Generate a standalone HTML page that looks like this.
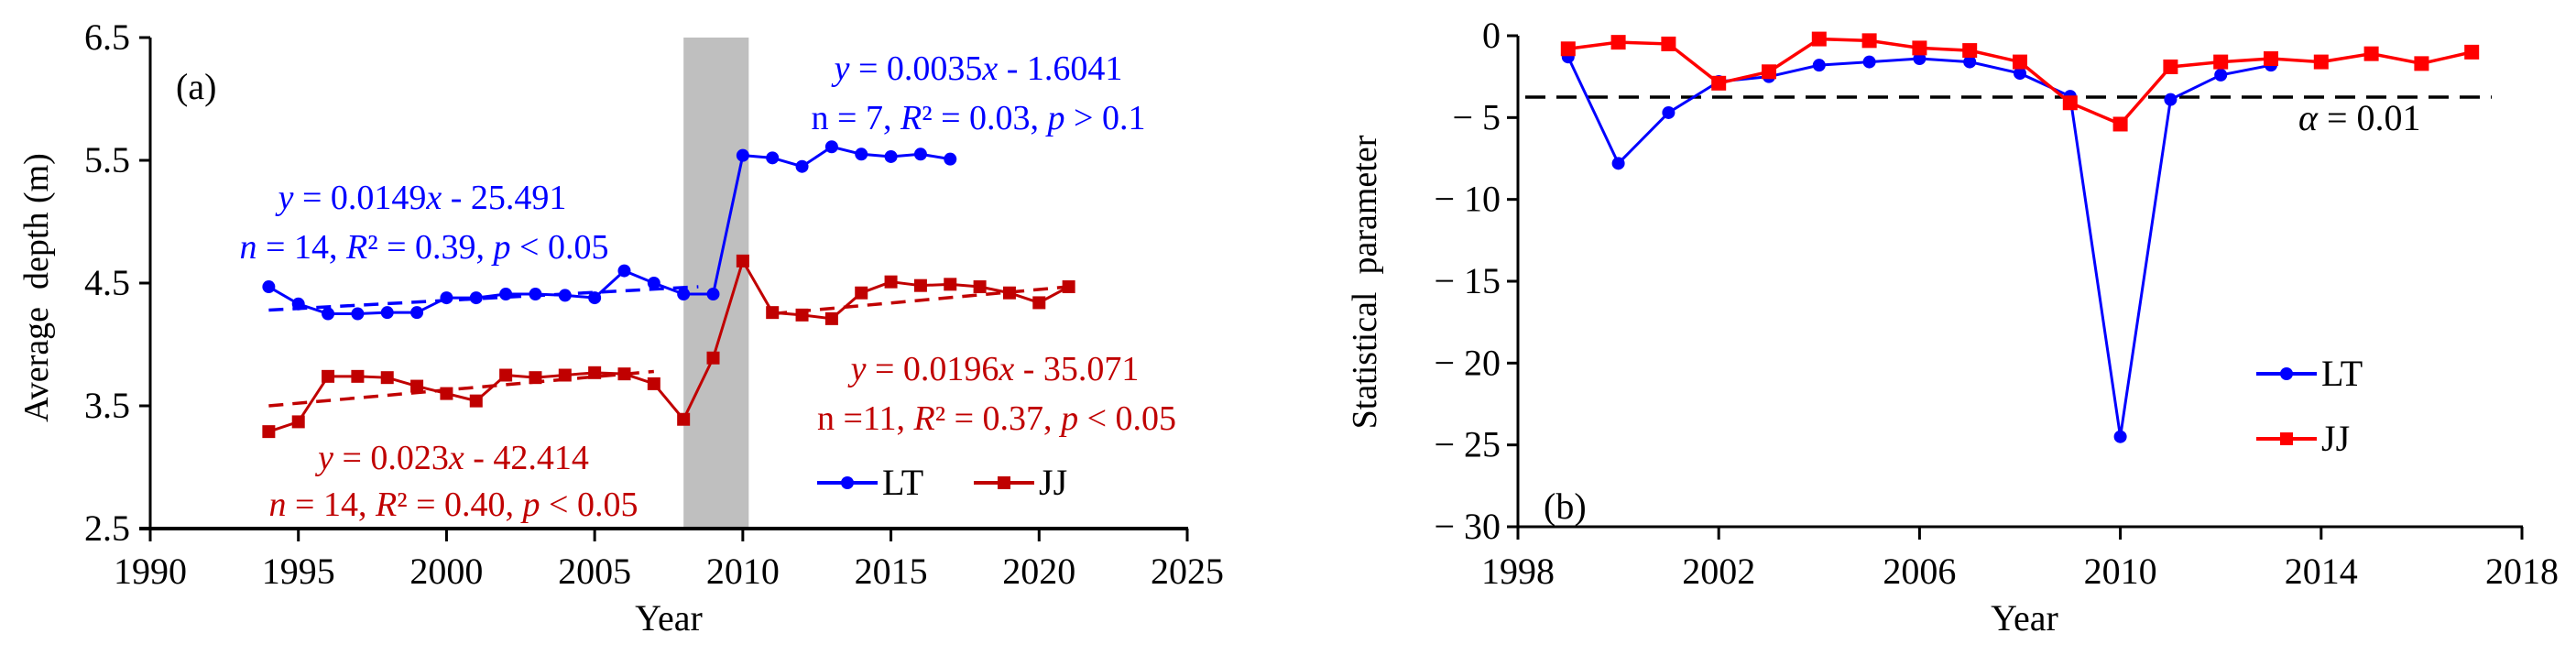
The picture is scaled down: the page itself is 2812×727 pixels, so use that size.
<!DOCTYPE html>
<html><head><meta charset="utf-8"><style>
html,body{margin:0;padding:0;background:#fff;}
svg{display:block;font-family:"Liberation Serif",serif;}
</style></head><body>
<svg id="c" width="2812" height="727" viewBox="0 0 2812 727" xmlns="http://www.w3.org/2000/svg"></svg>
<script>
// ---------- Panel (a) data ----------
const yearsA_LT = [1994,1995,1996,1997,1998,1999,2000,2001,2002,2003,2004,2005,2006,2007,2008,2009,2010,2011,2012,2013,2014,2015,2016,2017];
const valsA_LT = [4.47,4.33,4.25,4.25,4.26,4.26,4.38,4.38,4.41,4.41,4.40,4.38,4.60,4.50,4.41,4.41,5.54,5.52,5.45,5.61,5.55,5.53,5.55,5.51];
const yearsA_JJ = [1994,1995,1996,1997,1998,1999,2000,2001,2002,2003,2004,2005,2006,2007,2008,2009,2010,2011,2012,2013,2014,2015,2016,2017,2018,2019,2020,2021];
const valsA_JJ = [3.29,3.37,3.74,3.74,3.73,3.66,3.60,3.54,3.75,3.73,3.75,3.77,3.76,3.68,3.39,3.89,4.68,4.26,4.24,4.21,4.42,4.51,4.48,4.49,4.47,4.42,4.34,4.47];
const trendLT1Years = [1994,2008.5]; const trendLT1Vals = [4.28,4.47];
const trendJJ1Years = [1994,2007]; const trendJJ1Vals = [3.50,3.78];
const trendJJ2Years = [2011,2021]; const trendJJ2Vals = [4.25,4.47];
const ticksAX = [1990,1995,2000,2005,2010,2015,2020,2025];
const ticksAY = [2.5,3.5,4.5,5.5,6.5];
const bandA = [2008,2010.2];
// ---------- Panel (b) data ----------
const yearsB_LT = [1999,2000,2001,2002,2003,2004,2005,2006,2007,2008,2009,2010,2011,2012,2013];
const valsB_LT = [-1.3,-7.8,-4.7,-2.8,-2.5,-1.8,-1.6,-1.4,-1.6,-2.3,-3.7,-24.5,-3.9,-2.4,-1.8];
const yearsB_JJ = [1999,2000,2001,2002,2003,2004,2005,2006,2007,2008,2009,2010,2011,2012,2013,2014,2015,2016,2017];
const valsB_JJ = [-0.8,-0.4,-0.5,-2.9,-2.2,-0.2,-0.3,-0.75,-0.9,-1.6,-4.1,-5.4,-1.9,-1.6,-1.4,-1.6,-1.1,-1.7,-1.0];
const ticksBX = [1998,2002,2006,2010,2014,2018];
const ticksBY = [0,-5,-10,-15,-20,-25,-30];
const alphaLevel = [-3.75];

const svg = document.getElementById('c');
const NS = 'http://www.w3.org/2000/svg';
function mk(tag, attrs, parent){ const e=document.createElementNS(NS,tag); for(const k in attrs) e.setAttribute(k,attrs[k]); (parent||svg).appendChild(e); return e; }

// scales
const axA = v => 164 + (v-1990)*(1296-164)/35;
const ayA = v => 577 - (v-2.5)*(577-41)/4;
const axB = v => 1657 + (v-1998)*(2753-1657)/20;
const ayB = v => 39 - v*(575-39)/30;

// ---- Panel A ----
const gA = mk('g',{});  
const band = mk('rect',{x:axA(bandA[0]),y:ayA(6.5),width:axA(bandA[1])-axA(bandA[0]),height:ayA(2.5)-ayA(6.5),fill:'#bfbfbf'},gA);
 
const yA = mk('line',{x1:164,y1:ayA(6.5),x2:164,y2:577,stroke:'#000','stroke-width':3},gA);
 
const xA = mk('line',{x1:152,y1:577,x2:1297,y2:577,stroke:'#000','stroke-width':4},gA);
 
ticksAY.forEach(t=>{
  const l=mk('line',{x1:152,x2:164,y1:ayA(t),y2:ayA(t),stroke:'#000','stroke-width':3},gA);
   
  const tx=mk('text',{x:142,y:ayA(t)+13,'font-size':40,'text-anchor':'end'},gA); tx.textContent=t.toFixed(1);
   
});
ticksAX.forEach(t=>{
  const l=mk('line',{x1:axA(t),x2:axA(t),y1:577,y2:591,stroke:'#000','stroke-width':3},gA);
   
  const tx=mk('text',{x:axA(t),y:637,'font-size':40,'text-anchor':'middle'},gA); tx.textContent=t;
   
});
function series(xs,vs,fx,fy,color,marker,name,g,lw,ms){
  const pts=xs.map((x,i)=>fx(x)+','+fy(vs[i])).join(' ');
  const pl=mk('polyline',{points:pts,fill:'none',stroke:color,'stroke-width':lw},g);
   
  xs.forEach((x,i)=>{
    let m;
    if(marker==='c') m=mk('circle',{cx:fx(x),cy:fy(vs[i]),r:ms,fill:color},g);
    else m=mk('rect',{x:fx(x)-ms,y:fy(vs[i])-ms,width:2*ms,height:2*ms,fill:color},g);
     
  });
}
function dashed(xs,vs,color,name){
  const l=mk('line',{x1:axA(xs[0]),y1:ayA(vs[0]),x2:axA(xs[1]),y2:ayA(vs[1]),stroke:color,'stroke-width':3.5,'stroke-dasharray':'16 10'},gA);
   
}
dashed(trendLT1Years,trendLT1Vals,'#0000ff','trend-lt-early');
dashed(trendJJ1Years,trendJJ1Vals,'#c00000','trend-jj-early');
dashed(trendJJ2Years,trendJJ2Vals,'#c00000','trend-jj-late');
series(yearsA_LT,valsA_LT,axA,ayA,'#0000ff','c','lt-series-a',gA,3,7);
series(yearsA_JJ,valsA_JJ,axA,ayA,'#c00000','s','jj-series-a',gA,3,7);
function txt(x,y,html,size,color,anchor,name,g){
  const t=mk('text',{x:x,y:y,'font-size':size,fill:color,'text-anchor':anchor||'start'},g);
  t.innerHTML=html;   return t;
}
txt(192,108,'(a)',40,'#000','start','panel-label-a',gA);
txt(1068,87,'<tspan font-style="italic">y</tspan> = 0.0035<tspan font-style="italic">x</tspan> - 1.6041',38,'#0000ff','middle','eq-lt-late',gA);
txt(1068,141,'n = 7, <tspan font-style="italic">R</tspan>² = 0.03, <tspan font-style="italic">p</tspan> &gt; 0.1',38,'#0000ff','middle','stats-lt-late',gA);
txt(461,228,'<tspan font-style="italic">y</tspan> = 0.0149<tspan font-style="italic">x</tspan> - 25.491',38,'#0000ff','middle','eq-lt-early',gA);
txt(463,282,'<tspan font-style="italic">n</tspan> = 14, <tspan font-style="italic">R</tspan>² = 0.39, <tspan font-style="italic">p</tspan> &lt; 0.05',38,'#0000ff','middle','stats-lt-early',gA);
txt(1086,415,'<tspan font-style="italic">y</tspan> = 0.0196<tspan font-style="italic">x</tspan> - 35.071',38,'#c00000','middle','eq-jj-late',gA);
txt(1088,469,'n =11, <tspan font-style="italic">R</tspan>² = 0.37, <tspan font-style="italic">p</tspan> &lt; 0.05',38,'#c00000','middle','stats-jj-late',gA);
txt(495,512,'<tspan font-style="italic">y</tspan> = 0.023<tspan font-style="italic">x</tspan> - 42.414',38,'#c00000','middle','eq-jj-early',gA);
txt(495,563,'<tspan font-style="italic">n</tspan> = 14, <tspan font-style="italic">R</tspan>² = 0.40, <tspan font-style="italic">p</tspan> &lt; 0.05',38,'#c00000','middle','stats-jj-early',gA);
txt(730,688,'Year',40,'#000','middle','x-axis-title-a',gA);
const ytA=txt(0,0,'Average&#160;&#160;depth (m)',38,'#000','middle','y-axis-title-a',gA);
ytA.setAttribute('transform','translate(52,314) rotate(-90)');
// legend A
function legend(x,y,color,marker,label,g,name){
  const lg=mk('g',{},g);  
  const l=mk('line',{x1:x,y1:y,x2:x+66,y2:y,stroke:color,'stroke-width':4},lg);
   
  let m; if(marker==='c') m=mk('circle',{cx:x+33,cy:y,r:7,fill:color},lg); else m=mk('rect',{x:x+26,y:y-7,width:14,height:14,fill:color},lg);
   
  txt(x+71,y+13,label,40,'#000','start',name+'-label',lg);
}
legend(892,527,'#0000ff','c','LT',gA,'legend-lt-a');
legend(1063,527,'#c00000','s','JJ',gA,'legend-jj-a');

// ---- Panel B ----
const gB = mk('g',{});  
const yB=mk('line',{x1:1657,y1:39,x2:1657,y2:576,stroke:'#000','stroke-width':3},gB);
 
const xB=mk('line',{x1:1645,y1:575,x2:2754,y2:575,stroke:'#000','stroke-width':3},gB);
 
ticksBY.forEach(t=>{
  const l=mk('line',{x1:1645,x2:1657,y1:ayB(t),y2:ayB(t),stroke:'#000','stroke-width':3},gB);
   
  const tx=mk('text',{x:1638,y:ayB(t)+13,'font-size':40,'text-anchor':'end'},gB); tx.textContent=t===0?'0':'− '+(-t);
   
});
ticksBX.forEach(t=>{
  const l=mk('line',{x1:axB(t),x2:axB(t),y1:575,y2:589,stroke:'#000','stroke-width':3},gB);
   
  const tx=mk('text',{x:axB(t),y:637,'font-size':40,'text-anchor':'middle'},gB); tx.textContent=t;
   
});
const al=mk('line',{x1:1665,x2:2720,y1:ayB(alphaLevel[0]),y2:ayB(alphaLevel[0]),stroke:'#000','stroke-width':3.5,'stroke-dasharray':'22 12'},gB);
 
series(yearsB_LT,valsB_LT,axB,ayB,'#0000ff','c','lt-series-b',gB,3,7);
series(yearsB_JJ,valsB_JJ,axB,ayB,'#ff0000','s','jj-series-b',gB,3.5,8);
txt(2509,142,'<tspan font-style="italic">α</tspan> = 0.01',40,'#000','start','alpha-label',gB);
txt(1685,566,'(b)',40,'#000','start','panel-label-b',gB);
txt(2210,688,'Year',40,'#000','middle','x-axis-title-b',gB);
const ytB=txt(0,0,'Statistical&#160;&#160;parameter',38,'#000','middle','y-axis-title-b',gB);
ytB.setAttribute('transform','translate(1502,308) rotate(-90)');
legend(2463,408,'#0000ff','c','LT',gB,'legend-lt-b');
legend(2463,479,'#ff0000','s','JJ',gB,'legend-jj-b');
</script>
</body></html>
